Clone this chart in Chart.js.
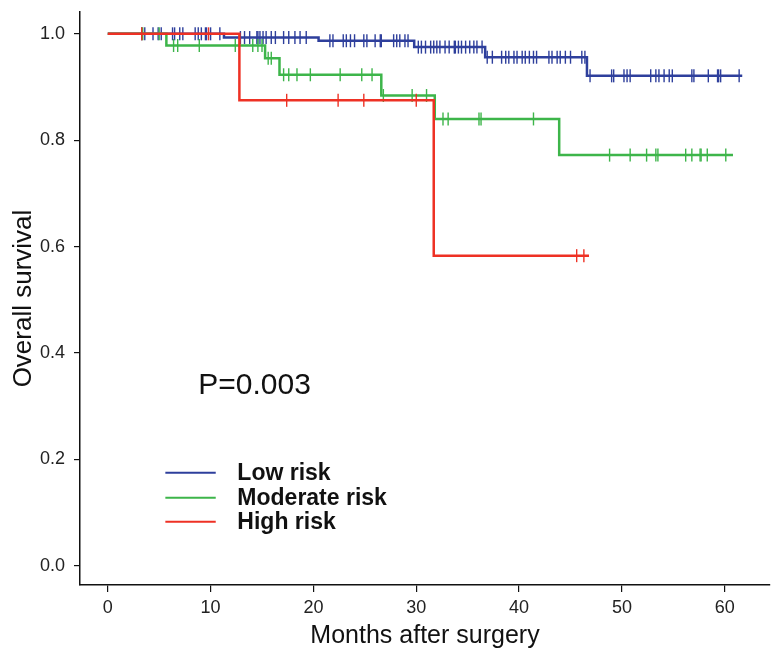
<!DOCTYPE html>
<html>
<head>
<meta charset="utf-8">
<script src="https://cdn.jsdelivr.net/npm/chart.js@4.4.1/dist/chart.umd.min.js"></script>
<style>
  html, body { margin: 0; padding: 0; background: #ffffff; }
  #wrap { width: 778px; height: 668px; position: relative; }
</style>
</head>
<body>
<div id="wrap"><canvas id="c"></canvas></div>
<script>
// ---- Data ----
const xTicks = [0, 10, 20, 30, 40, 50, 60];
const yTicks = [0.0, 0.2, 0.4, 0.6, 0.8, 1.0];

const seriesNames = ['Low risk', 'Moderate risk', 'High risk'];
const pText = 'P=0.003';

// Low risk: step times and survival values
const lowTimes = [0, 11.3, 20.5, 29.8, 36.7, 46.6];
const lowSurv  = [1.0, 0.993, 0.987, 0.975, 0.956, 0.921];
const lowEnd = 61.7;
const lowCensor = [3.3, 3.6, 4.4, 4.9, 5.2, 6.3, 6.5, 7.0, 7.3, 8.5, 8.8, 9.1, 9.5, 9.6, 10.0, 10.9,
  12.9, 13.3, 13.8, 14.5, 14.6, 14.8, 15.1, 15.4, 15.9, 16.3, 17.1, 17.6, 18.2, 18.7, 19.3,
  21.6, 21.9, 22.9, 23.2, 23.6, 24.0, 24.9, 25.2, 26.0, 26.5, 26.6, 27.8, 28.1, 28.4, 28.9, 29.2,
  30.2, 30.5, 30.9, 31.4, 31.7, 32.0, 32.3, 32.8, 33.2, 33.7, 33.8, 34.1, 34.4, 34.8, 35.2, 35.6, 35.9, 36.4,
  36.9, 37.4, 38.3, 38.7, 39.0, 39.5, 39.8, 40.3, 40.6, 41.0, 41.4, 41.7, 42.9, 43.2, 43.7, 44.0, 44.5, 45.0, 46.1, 46.4,
  46.9, 49.0, 49.2, 50.2, 50.5, 50.8, 52.8, 53.3, 53.6, 54.1, 54.6, 54.9, 56.8, 57.0, 58.4, 59.3, 59.4, 59.6, 61.4];

// Moderate risk
const modTimes = [0, 5.7, 15.3, 16.7, 26.6, 31.8, 43.9];
const modSurv  = [1.0, 0.978, 0.954, 0.923, 0.884, 0.840, 0.772];
const modEnd = 60.8;
const modCensor = [3.4, 5.0, 6.4, 6.8, 8.9, 12.4, 14.1, 14.6, 15.0, 15.6, 15.9,
  17.1, 17.6, 18.4, 19.7, 22.6, 24.7, 25.7, 26.8, 29.6, 31.0,
  32.6, 33.1, 36.1, 36.3, 41.4,
  48.8, 50.8, 52.4, 53.3, 53.5, 56.2, 56.8, 57.6, 57.7, 58.3, 60.1];

// High risk
const highTimes = [0, 12.8, 31.7];
const highSurv  = [1.0, 0.875, 0.583];
const highEnd = 46.8;
const highCensor = [3.3, 9.8, 17.4, 22.4, 24.9, 30.0, 45.6, 46.3];

// ---- Styles ----
const colors = ['#2E3F9C', '#3DB54A', '#EE3124'];
const FONT = '"Liberation Sans", Arial, Helvetica, sans-serif';

function stepPoints(times, surv, end) {
  const pts = times.map((t, i) => ({ x: t, y: surv[i] }));
  pts.push({ x: end, y: surv[surv.length - 1] });
  return pts;
}
function survAt(times, surv, t) {
  let s = surv[0];
  for (let i = 0; i < times.length; i++) { if (times[i] <= t) s = surv[i]; }
  return s;
}
function censorPoints(times, surv, cens) {
  return cens.map(t => ({ x: t, y: survAt(times, surv, t) }));
}

const groups = [
  { times: highTimes, surv: highSurv, end: highEnd, cens: highCensor, color: colors[2], name: seriesNames[2] },
  { times: modTimes, surv: modSurv, end: modEnd, cens: modCensor, color: colors[1], name: seriesNames[1] },
  { times: lowTimes, surv: lowSurv, end: lowEnd, cens: lowCensor, color: colors[0], name: seriesNames[0] }
];

const datasets = [];
groups.forEach(g => {
  datasets.push({
    label: g.name,
    data: stepPoints(g.times, g.surv, g.end),
    borderColor: g.color,
    borderWidth: 2.5,
    stepped: true,
    pointRadius: 0,
    fill: false
  });
  datasets.push({
    label: g.name + ' censored',
    data: censorPoints(g.times, g.surv, g.cens),
    showLine: false,
    pointStyle: 'line',
    pointRotation: 90,
    pointRadius: 6.5,
    pointBorderWidth: 1.4,
    pointBorderColor: g.color,
    borderColor: g.color,
    pointHoverRadius: 6.5
  });
});

const annotPlugin = {
  id: 'annot',
  afterDraw(chart) {
    const ctx = chart.ctx;
    const xs = chart.scales.x, ys = chart.scales.y;
    ctx.save();
    // P value
    ctx.fillStyle = '#111';
    ctx.font = '30px ' + FONT;
    ctx.textBaseline = 'middle';
    ctx.textAlign = 'left';
    ctx.fillText(pText, xs.getPixelForValue(8.8), ys.getPixelForValue(0.338));
    // legend
    const legendOrder = [0, 1, 2];
    const legendY = [0.175, 0.128, 0.083];
    ctx.font = 'bold 23px ' + FONT;
    legendOrder.forEach((k, i) => {
      const y = ys.getPixelForValue(legendY[i]);
      ctx.strokeStyle = colors[k];
      ctx.lineWidth = 2;
      ctx.beginPath();
      ctx.moveTo(xs.getPixelForValue(5.6), y);
      ctx.lineTo(xs.getPixelForValue(10.5), y);
      ctx.stroke();
      ctx.fillStyle = '#111';
      ctx.fillText(seriesNames[k], xs.getPixelForValue(12.6), y + 1);
    });
    ctx.restore();
  }
};

new Chart(document.getElementById('c'), {
  type: 'line',
  data: { datasets },
  plugins: [annotPlugin],
  options: {
    responsive: true,
    maintainAspectRatio: false,
    animation: false,
    events: [],
    layout: { padding: { top: 12, right: 8, left: 0, bottom: 0 } },
    plugins: { legend: { display: false }, tooltip: { enabled: false } },
    scales: {
      x: {
        type: 'linear',
        min: -2.7, max: 64.4,
        afterBuildTicks(scale) { scale.ticks = xTicks.map(v => ({ value: v })); },
        afterFit(scale) { scale.height = 83; scale.paddingLeft = 0; scale.paddingRight = 0; },
        grid: { display: true, drawOnChartArea: false, drawTicks: true, tickLength: 7, color: '#111', lineWidth: 1.2 },
        border: { display: true, color: '#111', width: 1.5 },
        ticks: { color: '#222', font: { family: FONT, size: 18 }, padding: 5, maxRotation: 0, callback: v => String(v) },
        title: { display: true, text: 'Months after surgery', color: '#111', font: { family: FONT, size: 25 }, padding: { top: 0, bottom: 17 } }
      },
      y: {
        type: 'linear',
        min: -0.036, max: 1.041,
        afterBuildTicks(scale) { scale.ticks = yTicks.map(v => ({ value: v })); },
        afterFit(scale) { scale.width = 80; scale.paddingTop = 0; scale.paddingBottom = 0; },
        grid: { display: true, drawOnChartArea: false, drawTicks: true, tickLength: 6, color: '#111', lineWidth: 1.2 },
        border: { display: true, color: '#111', width: 1.5 },
        ticks: { color: '#222', font: { family: FONT, size: 18 }, padding: 9, callback: v => v.toFixed(1) },
        title: { display: true, text: 'Overall survival', color: '#111', font: { family: FONT, size: 26 }, padding: { top: 8, bottom: 0 } }
      }
    }
  }
});
</script>
</body>
</html>
